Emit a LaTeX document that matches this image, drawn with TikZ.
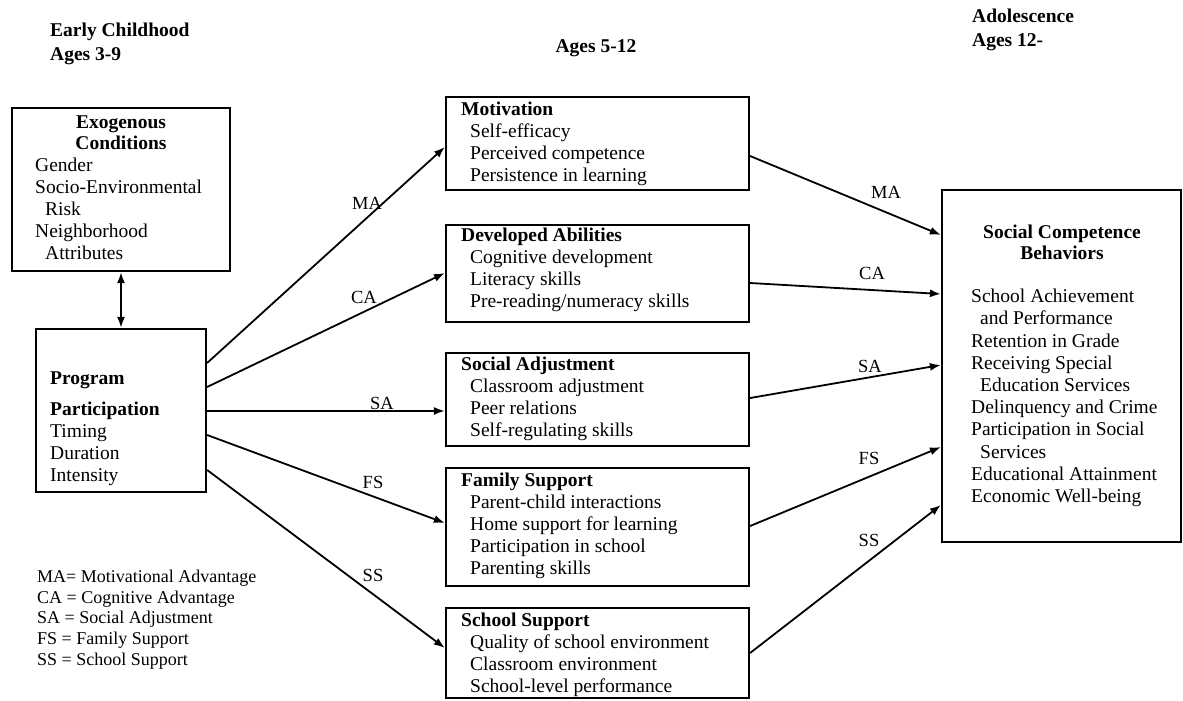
\documentclass[tikz,border=0pt]{standalone}
\usepackage{fontspec}
\setmainfont{Liberation Serif}
\usetikzlibrary{arrows.meta}
\begin{document}
\begin{tikzpicture}[x=1pt,y=-1pt,
  box/.style={draw=black, line width=2.2pt, rectangle, inner sep=0pt},
  txt/.style={inner sep=0pt, align=left, anchor=west, font=\fontsize{19.5}{22}\selectfont},
  ctxt/.style={inner sep=0pt, align=center, font=\fontsize{19.5}{21.5}\selectfont\bfseries},
  hdr/.style={inner sep=0pt, align=left, anchor=west, font=\fontsize{19.5}{24}\selectfont\bfseries},
  lbl/.style={inner sep=0pt, font=\fontsize{18.5}{20}\selectfont},
  leg/.style={inner sep=0pt, align=left, anchor=west, font=\fontsize{18}{20.8}\selectfont},
  arr/.style={line width=1.8pt, -{Latex[length=11pt,width=8pt]}},
  darr/.style={line width=1.8pt, {Latex[length=11pt,width=8pt]}-{Latex[length=11pt,width=8pt]}}
]
\useasboundingbox (0,0) rectangle (1183,701);

% headers
\node[hdr] (h1) at (50,44) {Early Childhood\\Ages 3-9};
\node[hdr, anchor=center] (h2) at (596,48) {Ages 5-12};
\node[hdr] (h3) at (972,29.5) {Adolescence\\Ages 12-};

% boxes
\node[box, minimum width=218, minimum height=163] (exo) at (121,189.5) {};
\node[box, minimum width=170, minimum height=163] (prog) at (121,410.5) {};
\node[box, minimum width=303, minimum height=93] (mot) at (597.5,143.5) {};
\node[box, minimum width=303, minimum height=97] (dev) at (597.5,273.5) {};
\node[box, minimum width=303, minimum height=93] (soc) at (597.5,399.5) {};
\node[box, minimum width=303, minimum height=118] (fam) at (597.5,527) {};
\node[box, minimum width=303, minimum height=90] (sch) at (597.5,653) {};
\node[box, minimum width=239, minimum height=352] (scb) at (1061.5,366) {};

% exogenous text
\node[ctxt] (exot) at (121,132.5) {Exogenous\\Conditions};
\node[txt] (exol) at (35,209) {Gender\\Socio-Environmental\\\hspace*{10pt}Risk\\Neighborhood\\\hspace*{10pt}Attributes};

% program text
\node[txt] (progt) at (50,428.5) {\textbf{Program}\\[9pt]\textbf{Participation}\\Timing\\Duration\\Intensity};

% middle texts
\node[txt] (mott) at (461,143.5) {\textbf{Motivation}\\\hspace*{9pt}Self-efficacy\\\hspace*{9pt}Perceived competence\\\hspace*{9pt}Persistence in learning};
\node[txt] (devt) at (461,270) {\textbf{Developed Abilities}\\\hspace*{9pt}Cognitive development\\\hspace*{9pt}Literacy skills\\\hspace*{9pt}Pre-reading/numeracy skills};
\node[txt] (soct) at (461,398.5) {\textbf{Social Adjustment}\\\hspace*{9pt}Classroom adjustment\\\hspace*{9pt}Peer relations\\\hspace*{9pt}Self-regulating skills};
\node[txt] (famt) at (461,526) {\textbf{Family Support}\\\hspace*{9pt}Parent-child interactions\\\hspace*{9pt}Home support for learning\\\hspace*{9pt}Participation in school\\\hspace*{9pt}Parenting skills};
\node[txt] (scht) at (461,655) {\textbf{School Support}\\\hspace*{9pt}Quality of school environment\\\hspace*{9pt}Classroom environment\\\hspace*{9pt}School-level performance};

% right box text
\node[ctxt] (scbt) at (1062,242.5) {Social Competence\\Behaviors};
\node[txt, font=\fontsize{19.5}{22.2}\selectfont] (scbl) at (971,398) {School Achievement\\\hspace*{9pt}and Performance\\Retention in Grade\\Receiving Special\\\hspace*{9pt}Education Services\\Delinquency and Crime\\Participation in Social\\\hspace*{9pt}Services\\Educational Attainment\\Economic Well-being};

% legend
\node[leg] (legend) at (37,619.5) {MA= Motivational Advantage\\CA = Cognitive Advantage\\SA = Social Adjustment\\FS = Family Support\\SS = School Support};

% connectors
\draw[darr] (exo.south) -- (prog.north);

\draw[arr] (prog.east |- 0,363) -- (mot.west |- 0,147);
\draw[arr] (prog.east |- 0,387) -- (dev.west |- 0,273);
\draw[arr] (prog.east |- 0,411) -- (soc.west |- 0,411);
\draw[arr] (prog.east |- 0,435) -- (fam.west |- 0,523);
\draw[arr] (prog.east |- 0,470) -- (sch.west |- 0,648);

\draw[arr] (mot.east |- 0,156) -- (scb.west |- 0,235);
\draw[arr] (dev.east |- 0,283) -- (scb.west |- 0,294);
\draw[arr] (soc.east |- 0,398) -- (scb.west |- 0,365);
\draw[arr] (fam.east |- 0,526) -- (scb.west |- 0,447);
\draw[arr] (sch.east |- 0,653) -- (scb.west |- 0,505);

% labels
\node[lbl] (lMA) at (367,203) {MA};
\node[lbl] (lCA) at (364,297) {CA};
\node[lbl] (lSA) at (382,403) {SA};
\node[lbl] (lFS) at (373,482) {FS};
\node[lbl] (lSS) at (373,575) {SS};

\node[lbl] (rMA) at (886,192) {MA};
\node[lbl] (rCA) at (872,273) {CA};
\node[lbl] (rSA) at (870,366) {SA};
\node[lbl] (rFS) at (869,458) {FS};
\node[lbl] (rSS) at (869,540) {SS};
\end{tikzpicture}
\end{document}
